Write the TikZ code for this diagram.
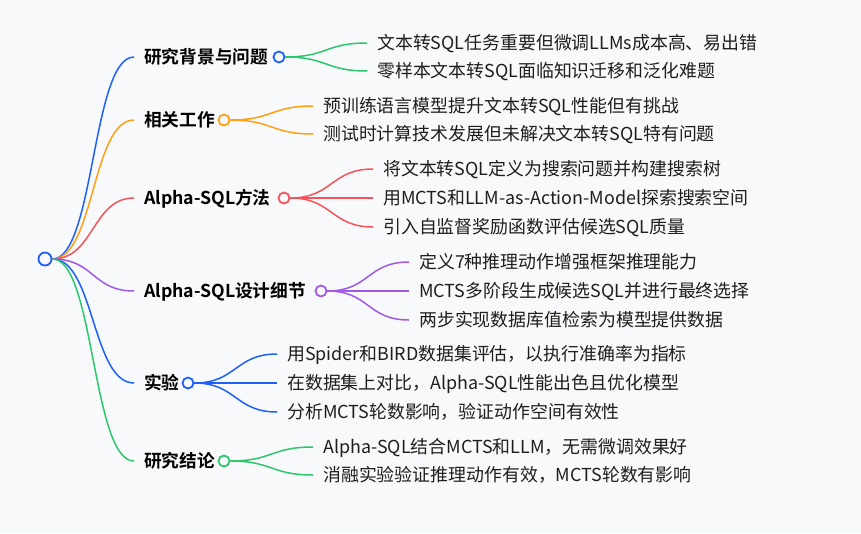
\documentclass[tikz,border=0pt]{standalone}
\usepackage{fontspec}
\setmainfont{Noto Sans CJK SC}[BoldFont={Noto Sans CJK SC Bold}]
\definecolor{bgc}{RGB}{248,249,251}
\definecolor{cblue}{RGB}{30,96,250}
\definecolor{corange}{RGB}{255,160,20}
\definecolor{cred}{RGB}{245,85,90}
\definecolor{cpurple}{RGB}{160,90,230}
\definecolor{cgreen}{RGB}{45,200,110}
\definecolor{textc}{RGB}{30,30,30}
\begin{document}
\begin{tikzpicture}[x=1pt,y=-1pt,
  link/.style={line width=1.5pt, out=0, in=180, out distance=42pt, in distance=42pt},
  dot/.style={circle, draw, line width=1.8pt, fill=bgc, minimum size=11pt, inner sep=0pt},
  branch/.style={anchor=west, inner xsep=10pt, inner ysep=0pt, text height=15pt, text depth=1.7pt,
    font=\fontsize{17.7}{20}\selectfont\bfseries, text=black},
  leaf/.style={anchor=west, inner xsep=10pt, inner ysep=0pt, text height=15pt, text depth=1.7pt,
    font=\fontsize{17.9}{20}\selectfont, text=textc}]
\fill[bgc] (0,0) rectangle (861,533);
\useasboundingbox (0,0) rectangle (861,533);

\node[dot, draw=cblue, minimum size=13pt] (root) at (45,259) {};

% branch 1
\node[branch] (b1) at (134,57) {研究背景与问题};
\node[dot, draw=cblue] (c1) at (279,57) {};
\node[leaf] (l11) at (367,43) {文本转SQL任务重要但微调LLMs成本高、易出错};
\node[leaf] (l12) at (367,71) {零样本文本转SQL面临知识迁移和泛化难题};
\draw[link, cblue] (root.east) to (b1.west);
\draw[link, cgreen] (c1.east) to (l11.west);
\draw[link, cgreen] (c1.east) to (l12.west);

% branch 2
\node[branch] (b2) at (134,120) {相关工作};
\node[dot, draw=corange] (c2) at (224,120) {};
\node[leaf] (l21) at (313,106) {预训练语言模型提升文本转SQL性能但有挑战};
\node[leaf] (l22) at (313,134) {测试时计算技术发展但未解决文本转SQL特有问题};
\draw[link, corange] (root.east) to (b2.west);
\draw[link, corange] (c2.east) to (l21.west);
\draw[link, corange] (c2.east) to (l22.west);

% branch 3
\node[branch] (b3) at (134,198) {Alpha-SQL方法};
\node[dot, draw=cred] (c3) at (284,198) {};
\node[leaf] (l31) at (373,169) {将文本转SQL定义为搜索问题并构建搜索树};
\node[leaf] (l32) at (373,198) {用MCTS和LLM-as-Action-Model探索搜索空间};
\node[leaf] (l33) at (373,227) {引入自监督奖励函数评估候选SQL质量};
\draw[link, cred] (root.east) to (b3.west);
\draw[link, cred] (c3.east) to (l31.west);
\draw[link, cred] (c3.east) to (l32.west);
\draw[link, cred] (c3.east) to (l33.west);

% branch 4
\node[branch] (b4) at (134,291) {Alpha-SQL设计细节};
\node[dot, draw=cpurple] (c4) at (321,291) {};
\node[leaf] (l41) at (409,262) {定义7种推理动作增强框架推理能力};
\node[leaf] (l42) at (409,291) {MCTS多阶段生成候选SQL并进行最终选择};
\node[leaf] (l43) at (409,320) {两步实现数据库值检索为模型提供数据};
\draw[link, cpurple] (root.east) to (b4.west);
\draw[link, cpurple] (c4.east) to (l41.west);
\draw[link, cpurple] (c4.east) to (l42.west);
\draw[link, cpurple] (c4.east) to (l43.west);

% branch 5
\node[branch] (b5) at (134,383) {实验};
\node[dot, draw=cblue] (c5) at (188,383) {};
\node[leaf] (l51) at (277,354) {用Spider和BIRD数据集评估，以执行准确率为指标};
\node[leaf] (l52) at (277,383) {在数据集上对比，Alpha-SQL性能出色且优化模型};
\node[leaf] (l53) at (277,412) {分析MCTS轮数影响，验证动作空间有效性};
\draw[link, cblue] (root.east) to (b5.west);
\draw[link, cblue] (c5.east) to (l51.west);
\draw[link, cblue] (c5.east) to (l52.west);
\draw[link, cblue] (c5.east) to (l53.west);

% branch 6
\node[branch] (b6) at (134,461) {研究结论};
\node[dot, draw=cgreen] (c6) at (224,461) {};
\node[leaf] (l61) at (313,447) {Alpha-SQL结合MCTS和LLM，无需微调效果好};
\node[leaf] (l62) at (313,475) {消融实验验证推理动作有效，MCTS轮数有影响};
\draw[link, cgreen] (root.east) to (b6.west);
\draw[link, cgreen] (c6.east) to (l61.west);
\draw[link, cgreen] (c6.east) to (l62.west);
\end{tikzpicture}
\end{document}
